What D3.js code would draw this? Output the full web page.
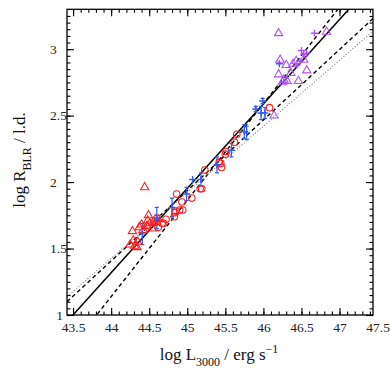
<!DOCTYPE html>
<html lang="en">

<head>
  <meta charset="UTF-8">
  <title>R-L relation</title>
  <script src="https://d3js.org/d3.v7.min.js"></script>
  <style>
    body { margin: 0; background: #fff; }
    .title { font: 17px 'Liberation Serif', 'Times New Roman', serif; fill: #111; }
  </style>
</head>

<body>
  <svg width="390" height="374"></svg>
  <script>
    // red triangles
    const redTriX = [44.44, 44.28, 44.25, 44.29, 44.31, 44.34, 44.37, 44.40, 44.42, 44.47, 44.48, 44.49, 44.51, 44.54, 44.56, 44.58, 44.62, 44.35];
    const redTriY = [1.96, 1.63, 1.53, 1.56, 1.52, 1.51, 1.66, 1.68, 1.64, 1.67, 1.71, 1.75, 1.69, 1.65, 1.70, 1.72, 1.72, 1.55];
    // red circles
    const redCircX = [44.60, 44.62, 44.67, 44.69, 44.72, 44.83, 44.84, 44.85, 44.86, 44.90, 44.94, 44.93, 45.06, 45.17, 45.19, 45.23, 45.42, 45.45, 45.44, 45.50, 45.51, 45.62, 45.65, 46.08];
    const redCircY = [1.70, 1.66, 1.69, 1.69, 1.72, 1.74, 1.77, 1.78, 1.91, 1.79, 1.79, 1.85, 1.88, 1.95, 1.95, 2.09, 2.15, 2.11, 2.14, 2.21, 2.23, 2.30, 2.36, 2.56];
    // blue crosses with errors
    const blueX = [44.41, 44.60, 44.80, 44.99, 45.07, 45.18, 45.39, 45.58, 45.75, 45.78, 45.90, 45.99, 45.97, 46.02, 46.21];
    const blueY = [1.61, 1.73, 1.81, 1.91, 2.02, 2.02, 2.13, 2.24, 2.38, 2.37, 2.55, 2.61, 2.52, 2.52, 2.89];
    const blueErr = [0.08, 0.08, 0.07, 0.05, 0, 0.05, 0.06, 0.05, 0.05, 0.05, 0.02, 0.02, 0.05, 0.04, 0];
    // purple triangles
    const purpTriX = [46.20, 46.83, 46.22, 46.30, 46.20, 46.27, 46.31, 46.25, 46.36, 46.39, 46.43, 46.46, 46.57, 46.14, 46.53];
    const purpTriY = [3.12, 3.13, 2.92, 2.88, 2.81, 2.77, 2.76, 2.75, 2.82, 2.89, 2.91, 2.76, 2.84, 2.50, 2.92];
    // purple crosses
    const purpPlusX = [46.67, 46.50, 46.53, 46.57, 46.44, 46.48];
    const purpPlusY = [3.12, 2.99, 2.96, 2.97, 2.88, 2.91];

    // fitted relations: logR = a + b * (logL - 44)
    const fitA = [1.318, 1.138, 1.407, 1.426];
    const fitB = [0.635, 0.726, 0.530, 0.497];
    const fitStyle = ['solid', 'dash', 'dash', 'dot'];

    const xTicks = [43.5, 44, 44.5, 45, 45.5, 46, 46.5, 47, 47.5];
    const yTicks = [1, 1.5, 2, 2.5, 3];

    const svg = d3.select('svg');
    const pL = 67, pR = 373, pT = 9.3, pB = 315;
    const serif = "'Liberation Serif', 'Times New Roman', serif";

    const x = d3.scaleLinear().domain([43.42, 47.44]).range([pL, pR]);
    const y = d3.scaleLinear().domain([1, 3.3]).range([pB, pT]);

    const red = '#ff1f1f', blue = '#2f5cf5', purple = '#b050f5';

    svg.append('clipPath').attr('id', 'clip')
      .append('rect')
      .attr('x', pL).attr('y', pT)
      .attr('width', pR - pL).attr('height', pB - pT);

    const plot = svg.append('g').attr('clip-path', 'url(#clip)');

    // fit lines
    const xs = x.domain();
    fitA.forEach((a, i) => {
      const ln = plot.append('line')
        .attr('x1', x(xs[0])).attr('y1', y(a + fitB[i] * (xs[0] - 44)))
        .attr('x2', x(xs[1])).attr('y2', y(a + fitB[i] * (xs[1] - 44)))
        .attr('fill', 'none');
      if (fitStyle[i] === 'solid') {
        ln.attr('stroke', '#000').attr('stroke-width', 1.5);
      } else if (fitStyle[i] === 'dash') {
        ln.attr('stroke', '#000').attr('stroke-width', 1.4).attr('stroke-dasharray', '4,3');
      } else {
        ln.attr('stroke', '#8a8a8a').attr('stroke-width', 1.1).attr('stroke-dasharray', '1.2,1.8');
      }
    });

    const tri = d3.symbol().type(d3.symbolTriangle).size(30);
    const plus = s => `M${-s},0H${s}M0,${-s}V${s}`;

    // blue error bars
    blueX.forEach((v, i) => {
      if (!blueErr[i]) return;
      const px = x(v), y0 = y(blueY[i] - blueErr[i]), y1 = y(blueY[i] + blueErr[i]);
      plot.append('path')
        .attr('d', `M${px},${y0}V${y1}M${px - 2},${y0}H${px + 2}M${px - 2},${y1}H${px + 2}`)
        .attr('stroke', blue).attr('stroke-width', 1.2).attr('fill', 'none');
    });

    plot.selectAll('.rtri').data(redTriX).enter().append('path')
      .attr('transform', (d, i) => `translate(${x(d)},${y(redTriY[i])})`)
      .attr('d', tri).attr('fill', 'none').attr('stroke', red).attr('stroke-width', 1.1);

    plot.selectAll('.rcirc').data(redCircX).enter().append('circle')
      .attr('cx', d => x(d)).attr('cy', (d, i) => y(redCircY[i])).attr('r', 3.3)
      .attr('fill', 'none').attr('stroke', red).attr('stroke-width', 1.1);

    plot.selectAll('.bplus').data(blueX).enter().append('path')
      .attr('transform', (d, i) => `translate(${x(d)},${y(blueY[i])})`)
      .attr('d', plus(3.5)).attr('fill', 'none').attr('stroke', blue).attr('stroke-width', 1.4);

    plot.selectAll('.ptri').data(purpTriX).enter().append('path')
      .attr('transform', (d, i) => `translate(${x(d)},${y(purpTriY[i])})`)
      .attr('d', tri).attr('fill', 'none').attr('stroke', purple).attr('stroke-width', 1.1);

    plot.selectAll('.pplus').data(purpPlusX).enter().append('path')
      .attr('transform', (d, i) => `translate(${x(d)},${y(purpPlusY[i])})`)
      .attr('d', plus(3.5)).attr('fill', 'none').attr('stroke', purple).attr('stroke-width', 1.4);

    // axes: minor + major ticks on all four sides
    const xMinor = d3.range(43.5, 47.45, 0.1).filter(v => v <= xs[1]);
    const xMajor = xTicks.filter(v => v <= xs[1]);
    const yMinor = d3.range(1, 3.3, 0.05);
    const yMajor = yTicks;

    const tickAxis = (axis, scale, vals, size) => axis(scale).tickValues(vals).tickSize(size).tickFormat('');

    svg.append('g').attr('transform', `translate(0,${pB})`).call(tickAxis(d3.axisTop, x, xMinor, 3.5));
    svg.append('g').attr('transform', `translate(0,${pB})`).call(tickAxis(d3.axisTop, x, xMajor, 7));
    svg.append('g').attr('transform', `translate(0,${pT})`).call(tickAxis(d3.axisBottom, x, xMinor, 3.5));
    svg.append('g').attr('transform', `translate(0,${pT})`).call(tickAxis(d3.axisBottom, x, xMajor, 7));
    svg.append('g').attr('transform', `translate(${pL},0)`).call(tickAxis(d3.axisRight, y, yMinor, 3.5));
    svg.append('g').attr('transform', `translate(${pL},0)`).call(tickAxis(d3.axisRight, y, yMajor, 7));
    svg.append('g').attr('transform', `translate(${pR},0)`).call(tickAxis(d3.axisLeft, y, yMinor, 3.5));
    svg.append('g').attr('transform', `translate(${pR},0)`).call(tickAxis(d3.axisLeft, y, yMajor, 7));
    svg.selectAll('.domain').remove();
    svg.selectAll('.tick line').attr('stroke', '#000').attr('stroke-width', 1.1);

    // tick labels
    const xl = svg.append('g').attr('transform', `translate(0,${pB})`)
      .call(d3.axisBottom(x).tickValues(xTicks).tickSize(0).tickPadding(7).tickFormat(d3.format('')));
    xl.select('.domain').remove();

    const yl = svg.append('g').attr('transform', `translate(${pL},0)`)
      .call(d3.axisLeft(y).tickValues(yTicks).tickSize(0).tickFormat(d3.format('')));
    yl.select('.domain').remove();
    yl.selectAll('.tick text')
      .attr('text-anchor', d => (d === 1 ? 'end' : 'start'))
      .attr('x', d => (d === 1 ? -4 : -17));

    [xl, yl].forEach(g => g.attr('font-family', serif).attr('font-size', 13.5)
      .selectAll('text').attr('fill', '#222').style('font-family', serif));

    svg.append('rect')
      .attr('x', pL).attr('y', pT)
      .attr('width', pR - pL).attr('height', pB - pT)
      .attr('fill', 'none').attr('stroke', '#000').attr('stroke-width', 1.3);

    // axis titles
    const xt = svg.append('text').attr('class', 'title')
      .attr('x', 219).attr('y', 360).attr('text-anchor', 'middle');
    xt.append('tspan').text('log L');
    xt.append('tspan').attr('dy', 6).attr('font-size', 12).text('3000');
    xt.append('tspan').attr('dy', -6).text(' / erg s');
    xt.append('tspan').attr('dy', -7).attr('font-size', 12).text('\u22121');

    const yt = svg.append('text').attr('class', 'title')
      .attr('transform', 'translate(25,160) rotate(-90)').attr('text-anchor', 'middle');
    yt.append('tspan').text('log R');
    yt.append('tspan').attr('dy', 6).attr('font-size', 12).text('BLR');
    yt.append('tspan').attr('dy', -6).text(' / l.d.');
  </script>
</body>

</html>
